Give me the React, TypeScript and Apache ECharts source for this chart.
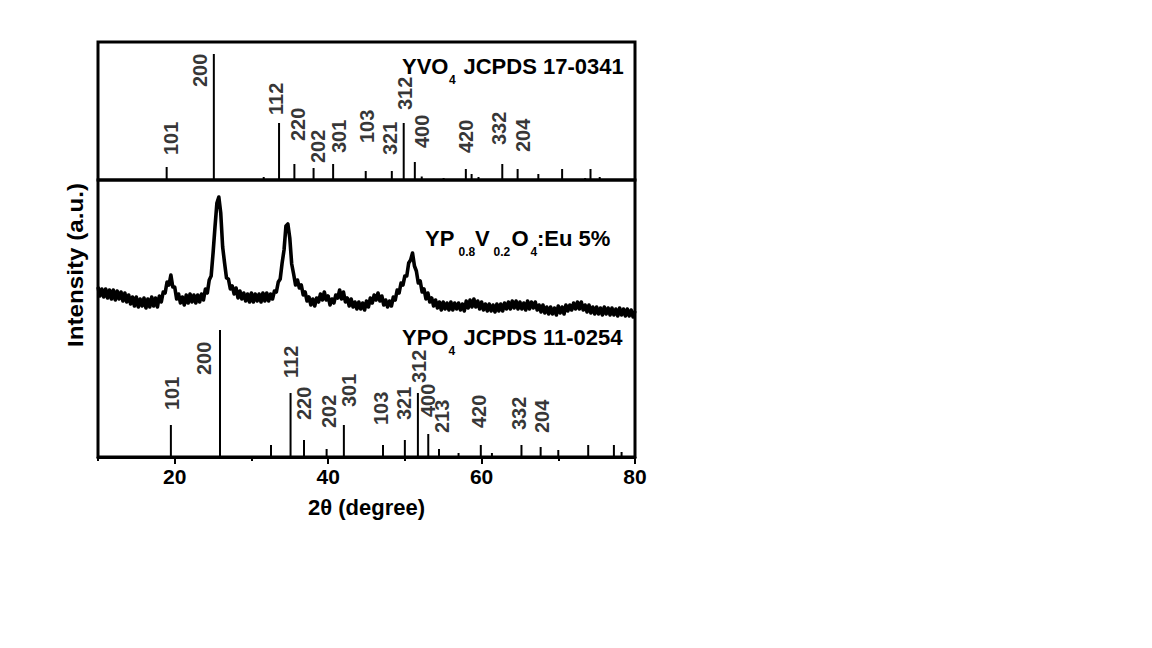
import React, { useEffect, useRef } from "react";
import * as echarts from "echarts";

// ---------- data ----------
const xRange = [10, 80];
const xTicks = [20, 40, 60, 80];
const xMinorTicks = [10, 30, 50, 70];

// measured XRD pattern of YP0.8V0.2O4:Eu 5% (2θ from 10° in 0.25° steps)
const xrdStart = 10;
const xrdStep = 0.25;
const xrdIntensity = [
  170, 161, 168, 160, 168, 159, 167, 158, 167, 157, 166, 158, 165, 156, 164, 155,
  162, 153, 160, 151, 160, 150, 158, 151, 159, 149, 158, 150, 160, 151, 159, 150,
  161, 155, 165, 164, 175, 172, 182, 170, 170, 158, 163, 154, 160, 152, 162, 154,
  163, 155, 162, 154, 162, 155, 163, 157, 168, 164, 177, 181, 204, 230, 254, 260,
  244, 210, 194, 179, 178, 168, 171, 163, 169, 159, 166, 158, 164, 156, 163, 155,
  164, 155, 163, 156, 163, 155, 164, 156, 164, 156, 163, 158, 166, 165, 175, 178,
  194, 207, 231, 233, 219, 193, 183, 172, 177, 169, 172, 162, 165, 156, 160, 152,
  158, 151, 159, 155, 163, 157, 165, 157, 161, 152, 158, 154, 162, 159, 167, 158,
  165, 155, 159, 151, 158, 150, 155, 148, 155, 148, 154, 147, 156, 150, 159, 154,
  162, 157, 164, 156, 161, 152, 157, 150, 156, 151, 160, 157, 167, 164, 174, 172,
  181, 181, 194, 197, 204, 191, 186, 174, 176, 165, 168, 158, 164, 155, 159, 151,
  157, 149, 155, 147, 155, 148, 154, 147, 155, 147, 154, 148, 154, 147, 153, 146,
  156, 149, 157, 150, 158, 150, 156, 148, 155, 147, 153, 146, 153, 146, 152, 145,
  153, 146, 153, 146, 154, 148, 155, 148, 156, 149, 156, 148, 155, 148, 154, 147,
  156, 148, 155, 149, 155, 147, 152, 145, 152, 144, 150, 143, 150, 143, 149, 142,
  151, 144, 150, 143, 152, 146, 152, 147, 154, 148, 155, 148, 155, 147, 152, 145,
  152, 144, 150, 143, 150, 143, 149, 142, 150, 143, 149, 142, 149, 142, 148, 141,
  149, 142, 148, 141, 148, 141, 147, 140, 146,
];

// YVO4 JCPDS 17-0341 reference lines
const vo4Angles = [18.95, 25.1, 31.6, 33.6, 35.6, 38.1, 40.65, 44.9, 48.3, 49.85, 51.3, 52.2, 55.05, 57.95, 58.7, 59.6, 62.7, 64.7, 67.4, 70.5, 73.5, 74.2, 75.4];
const vo4Intensity = [13, 126, 3, 57, 16, 12, 16, 9, 9, 57, 18, 3.5, 2, 11, 6, 3, 16, 11, 6, 11, 2, 11, 3];
const vo4Hkl = ["101", "200", "112", "220", "202", "301", "103", "321", "312", "400", "420", "332", "204"];
const vo4HklAngle = [19.5, 23.27, 33.25, 36.06, 38.71, 41.39, 45.09, 48.12, 50.07, 52.25, 57.97, 62.3, 65.46];
const vo4HklLevel = [25, 93, 65, 39, 17, 27, 37, 25, 70, 32, 27, 35, 28];

// YPO4 JCPDS 11-0254 reference lines
const po4Angles = [19.5, 25.9, 32.55, 35.1, 36.85, 39.8, 42.05, 47.15, 50.0, 51.7, 53.05, 54.45, 57.0, 59.9, 61.35, 65.2, 67.7, 70.0, 73.9, 77.25, 78.25];
const po4Intensity = [32, 127, 12, 64, 17, 8, 32, 12, 17, 64, 23, 8, 4, 12, 4, 12, 10, 7, 12, 12, 5];
const po4Hkl = ["101", "200", "112", "220", "202", "301", "103", "321", "312", "400", "213", "420", "332", "204"];
const po4HklAngle = [19.63, 23.88, 35.15, 36.89, 40.05, 42.75, 46.91, 49.94, 51.89, 52.97, 54.85, 59.61, 64.9, 67.86];
const po4HklLevel = [47, 82, 79, 37, 29, 50, 32, 37, 74, 40, 24, 29, 27, 24];

const FONT = '"Liberation Sans", Arial, Helvetica, sans-serif';

function stickRender(params: any, api: any) {
  const p0 = api.coord([api.value(0), 0]);
  const p1 = api.coord([api.value(0), api.value(1)]);
  return {
    type: "line",
    shape: { x1: p0[0], y1: p0[1], x2: p1[0], y2: p1[1] },
    style: { stroke: "#000", lineWidth: 2 },
  };
}

function hklLabels(hkl: string[], ang: number[], lvl: number[], gi: number) {
  return {
    type: "scatter",
    xAxisIndex: gi,
    yAxisIndex: gi,
    symbolSize: 0,
    itemStyle: { color: "rgba(0,0,0,0)" },
    silent: true,
    data: hkl.map((h, i) => [ang[i], lvl[i], h]),
    label: {
      show: true,
      position: "inside",
      rotate: 90,
      align: "left",
      verticalAlign: "middle",
      fontSize: 20,
      fontWeight: "bold",
      fontFamily: FONT,
      color: "#000",
      formatter: (p: any) => p.data[2],
    },
    z: 5,
  };
}

function txt(text: string, x: number, y: number, size: number, extra: any = {}) {
  return {
    type: "text",
    x,
    y,
    silent: true,
    ...extra,
    style: {
      text,
      font: `bold ${size}px ${FONT}`,
      fill: "#000",
      align: extra.align || "left",
      textAlign: extra.align || "left",
      verticalAlign: "middle",
      textVerticalAlign: "middle",
    },
  };
}

export default function App() {
  const ref = useRef<HTMLDivElement>(null);
  useEffect(() => {
    document.body.style.margin = "0";
    const chart = echarts.init(ref.current!, undefined, { renderer: "svg" });
    const curve = xrdIntensity.map((v, i) => [xrdStart + i * xrdStep, v]);
    chart.setOption({
      animation: false,
      backgroundColor: "#fff",
      grid: [
        { left: 98, top: 42, width: 537, height: 138, show: true, borderColor: "#000", borderWidth: 3, backgroundColor: "transparent" },
        { left: 98, top: 180, width: 537, height: 277, show: true, borderColor: "#000", borderWidth: 3, backgroundColor: "transparent" },
      ],
      xAxis: [
        { gridIndex: 0, type: "value", min: xRange[0], max: xRange[1], show: false },
        {
          gridIndex: 1,
          type: "value",
          min: xRange[0],
          max: xRange[1],
          axisLine: { show: true, lineStyle: { color: "#000", width: 3 } },
          axisTick: { show: true, customValues: xTicks, length: 7, lineStyle: { color: "#000", width: 2 } },
          axisLabel: { customValues: xTicks, fontSize: 21, fontWeight: "bold", color: "#000", fontFamily: FONT, margin: 9 },
          splitLine: { show: false },
        },
        {
          gridIndex: 1,
          type: "value",
          min: xRange[0],
          max: xRange[1],
          position: "bottom",
          axisLine: { show: false },
          axisTick: { show: true, customValues: xMinorTicks, length: 4, lineStyle: { color: "#000", width: 2 } },
          axisLabel: { show: false },
          splitLine: { show: false },
        },
      ],
      yAxis: [
        { gridIndex: 0, type: "value", min: 0, max: 138, show: false },
        { gridIndex: 1, type: "value", min: 0, max: 277, show: false },
      ],
      series: [
        {
          type: "custom",
          xAxisIndex: 0,
          yAxisIndex: 0,
          renderItem: stickRender,
          data: vo4Angles.map((a, i) => [a, vo4Intensity[i]]),
          silent: true,
        },
        hklLabels(vo4Hkl, vo4HklAngle, vo4HklLevel, 0),
        {
          type: "line",
          xAxisIndex: 1,
          yAxisIndex: 1,
          data: curve,
          symbol: "none",
          lineStyle: { color: "#000", width: 3.6, join: "round" },
          silent: true,
        },
        {
          type: "custom",
          xAxisIndex: 1,
          yAxisIndex: 1,
          renderItem: stickRender,
          data: po4Angles.map((a, i) => [a, po4Intensity[i]]),
          silent: true,
        },
        hklLabels(po4Hkl, po4HklAngle, po4HklLevel, 1),
      ],
      graphic: [
        txt("YVO", 402, 66.5, 22),
        txt("4", 449, 80, 12),
        txt("JCPDS 17-0341", 463.5, 66.5, 22),
        txt("YPO", 402, 337, 22),
        txt("4", 448.5, 350.5, 12),
        txt("JCPDS 11-0254", 463.5, 337, 22),
        txt("YP", 425, 238, 22),
        txt("0.8", 458.5, 252, 12),
        txt("V", 475, 238, 22),
        txt("0.2", 493.5, 252, 12),
        txt("O", 511.5, 238, 22),
        txt("4", 530.5, 252, 12),
        txt(":Eu 5%", 537, 238, 22),
        txt("2θ (degree)", 366.5, 507, 22, { align: "center" }),
        txt("Intensity (a.u.)", 75.5, 265, 22, { align: "center", rotation: Math.PI / 2, scaleX: 1.1 }),
      ],
    });
    return () => chart.dispose();
  }, []);
  return <div ref={ref} style={{ width: 1152, height: 648 }} />;
}
